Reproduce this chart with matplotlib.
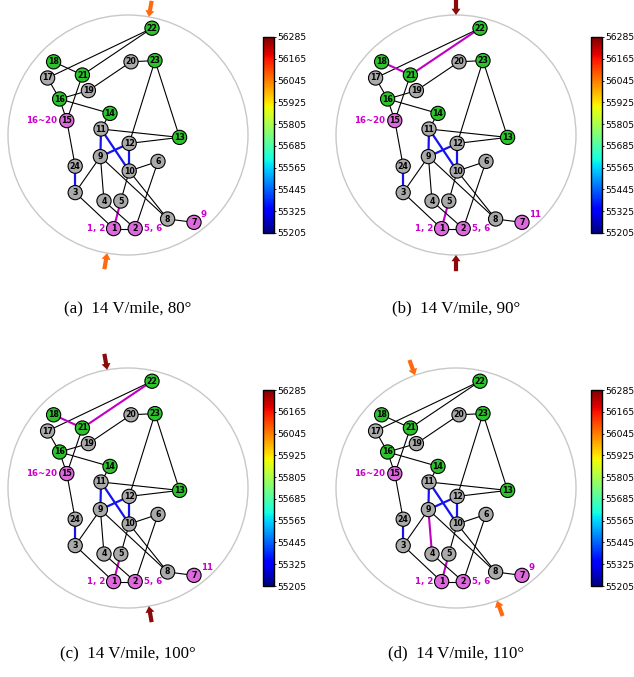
import numpy as np
import matplotlib.pyplot as plt
import matplotlib as mpl
from matplotlib.patches import Circle, FancyArrowPatch

# node layout of the 24-bus network (unit circle frame)
node_ids = list(range(1, 25))
node_x = [-0.12, 0.06, -0.44, -0.20, -0.06, 0.25, 0.55, 0.33, -0.23, 0.01, -0.225, 0.01,
          0.43, -0.15, -0.51, -0.57, -0.67, -0.62, -0.33, 0.025, -0.38, 0.20, 0.225, -0.44]
node_y = [-0.78, -0.78, -0.48, -0.55, -0.55, -0.22, -0.728, -0.70, -0.18, -0.30, 0.05, -0.07,
          -0.02, 0.18, 0.12, 0.30, 0.475, 0.61, 0.37, 0.61, 0.50, 0.89, 0.62, -0.26]

green_nodes = [13, 14, 16, 18, 21, 22, 23]
violet_nodes = [1, 2, 7, 15]

edges = [(22, 17), (22, 21), (18, 21), (17, 16), (16, 19), (19, 20), (20, 23), (21, 15),
         (16, 15), (16, 14), (14, 11), (23, 12), (23, 13), (11, 13), (12, 13), (15, 24),
         (3, 9), (3, 1), (9, 4), (9, 8), (10, 8), (10, 6), (10, 5), (6, 2), (5, 1), (4, 2),
         (1, 2), (8, 7), (24, 3), (11, 9), (11, 10), (9, 12), (12, 10)]
blue_edges = [(24, 3), (11, 9), (11, 10), (9, 12), (12, 10)]

# field direction per case
captions = ['(a)  14 V/mile, 80°', '(b)  14 V/mile, 90°',
            '(c)  14 V/mile, 100°', '(d)  14 V/mile, 110°']
angles = [80, 90, 100, 110]
arrow_colors = ['#ff6a10', '#8b0a0a', '#8b0a0a', '#ff6a10']
tripped_edges = [[(5, 1)],
                 [(5, 1), (18, 21), (22, 21)],
                 [(5, 1), (18, 21), (22, 21)],
                 [(5, 1), (9, 4)]]
label_7 = ['9', '11', '11', '9']

cb_min, cb_max = 55205, 56285
cb_ticks = list(range(55205, 56286, 120))

W, H = 634, 677
R = 120.0
fig = plt.figure(figsize=(W / 100, H / 100), dpi=100)


def add_px_axes(left, top, width, height):
    return fig.add_axes([left / W, 1 - (top + height) / H, width / W, height / H])


pos = {n: (x, y) for n, x, y in zip(node_ids, node_x, node_y)}
offsets = [(0, 0), (328, 0), (0, 353), (328, 353)]

for k, (ox, oy) in enumerate(offsets):
    ax = add_px_axes(ox, oy, 262, 280)
    cx, cy = 128, 135
    ax.set_xlim(-cx / R, (262 - cx) / R)
    ax.set_ylim(-(280 - cy) / R, cy / R)
    ax.axis('off')

    ax.add_patch(Circle((0, 0), 1.0, fill=False, ec='#c8c8c8', lw=1.0, zorder=1))

    red = tripped_edges[k]
    for a, b in edges:
        if (a, b) in red:
            color, lw = '#c000c0', 1.5
        elif (a, b) in blue_edges:
            color, lw = '#1414f0', 1.6
        else:
            color, lw = 'black', 0.8
        ax.plot([pos[a][0], pos[b][0]], [pos[a][1], pos[b][1]], color=color, lw=lw, zorder=2)

    cols = []
    for n in node_ids:
        if n in green_nodes:
            cols.append('#2cc42c')
        elif n in violet_nodes:
            cols.append('#dc6adc')
        else:
            cols.append('#aaaaaa')
    ax.scatter(node_x, node_y, s=105, c=cols, edgecolors='black', linewidths=0.8, zorder=3)
    for n in node_ids:
        ax.text(pos[n][0], pos[n][1], str(n), fontsize=5.7, fontweight='bold',
                ha='center', va='center', zorder=4)

    # bus groups
    lab = dict(fontsize=6.2, fontweight='bold', color='#cc00cc', textcoords='offset points')
    ax.annotate('16~20', pos[15], xytext=(-7, 0), ha='right', va='center', **lab)
    ax.annotate('1, 2', pos[1], xytext=(-6, 0), ha='right', va='center', **lab)
    ax.annotate('5, 6', pos[2], xytext=(6, 0), ha='left', va='center', **lab)
    ax.annotate(label_7[k], pos[7], xytext=(5, 6), ha='left', va='center', **lab)

    # field direction arrows
    th = np.deg2rad(angles[k])
    for sgn in (1, -1):
        ux, uy = sgn * np.cos(th), sgn * np.sin(th)
        arr = FancyArrowPatch((1.135 * ux, 1.135 * uy), (1.0 * ux, 1.0 * uy),
                              arrowstyle='simple,head_width=6.5,head_length=4.5,tail_width=3',
                              color=arrow_colors[k], lw=0, mutation_scale=1,
                              shrinkA=0, shrinkB=0, clip_on=False, zorder=5)
        ax.add_patch(arr)

    ax.text(0, -(308 - cy) / R if k < 2 else -(300 - cy) / R, captions[k],
            fontsize=12.2, family='Liberation Serif', ha='center', va='center')

    cax = add_px_axes(ox + 263, oy + 37, 11, 196)
    sm = mpl.cm.ScalarMappable(norm=mpl.colors.Normalize(cb_min, cb_max), cmap='jet')
    cb = fig.colorbar(sm, cax=cax, ticks=cb_ticks)
    cb.ax.tick_params(labelsize=6.7, length=1.5, width=0.6, pad=0.8)
    cb.outline.set_linewidth(1.0)

fig.savefig('out.png', dpi=100)
